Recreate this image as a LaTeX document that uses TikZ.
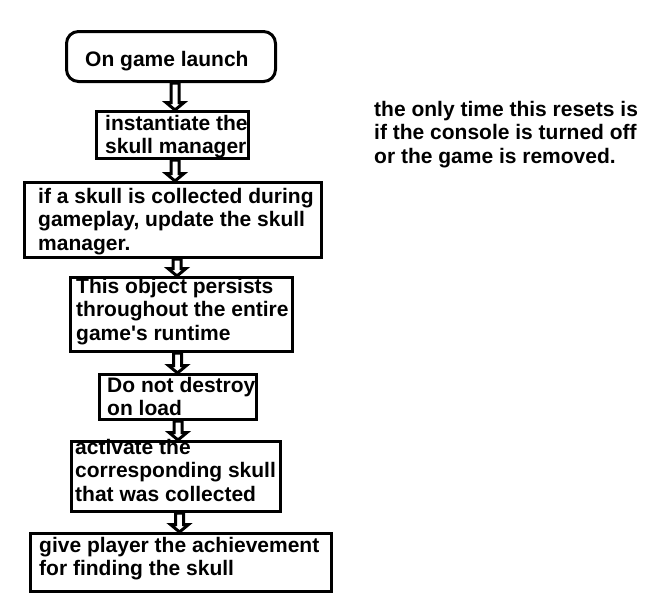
\documentclass[tikz,border=0pt]{standalone}
\usepackage{fontspec}
\setmainfont{Liberation Sans}[Ligatures=TeXOff]
\usetikzlibrary{calc}
\newcommand\firstline{\rule{0pt}{16pt}}
\tikzset{
  boxline/.style={draw=black, line width=3pt, inner sep=0pt, outer sep=0pt},
  flowbox/.style={boxline, rectangle},
  startbox/.style={boxline, rectangle, rounded corners=12pt},
  txt/.style={anchor=north west, inner sep=0pt, align=left, text=black,
    font=\fontsize{21}{23.5}\selectfont\bfseries},
  arrowline/.style={draw=black, line width=3pt, line join=miter, fill=white}
}
\newcommand\hollowarrow[3]{%
  \draw[arrowline] ($(#2.south -| #1)+(-4,1.5)$) -- ($(#3.north -| #1)+(-4,-9)$)
    -- ++(-5,0) -- ($(#3.north -| #1)+(0,-1.5)$) -- ($(#3.north -| #1)+(9,-9)$)
    -- ++(-5,0) -- ($(#2.south -| #1)+(4,1.5)$) -- cycle;}
\begin{document}
\begin{tikzpicture}[x=1pt, y=-1pt]
\useasboundingbox (0,0) rectangle (646,608);
\fill[white] (0,0) rectangle (646,608);

% boxes
\node[startbox, minimum width=209pt, minimum height=50pt] (b1) at (171,56.5) {};
\node[flowbox, minimum width=152pt, minimum height=47pt] (b2) at (172.5,135) {};
\node[flowbox, minimum width=297pt, minimum height=75pt] (b3) at (173,220) {};
\node[flowbox, minimum width=222pt, minimum height=74pt] (b4) at (181.5,314.5) {};
\node[flowbox, minimum width=157pt, minimum height=45pt] (b5) at (178,397) {};
\node[flowbox, minimum width=209pt, minimum height=70pt] (b6) at (176,476.5) {};
\node[flowbox, minimum width=301pt, minimum height=58pt] (b7) at (181,562.5) {};

% texts
\node[txt] (t1) at (85,50) {\firstline On game launch};
\node[txt] (t2) at (105,114) {\firstline instantiate the\\skull manager};
\node[txt] (t3) at (38,187) {\firstline if a skull is collected during\\gameplay, update the skull\\manager.};
\node[txt] (t4) at (76,277) {\firstline This object persists\\throughout the entire\\game's runtime};
\node[txt] (t5) at (107,376) {\firstline Do not destroy\\on load};
\node[txt] (t6) at (75,438) {\firstline activate the\\corresponding skull\\that was collected};
\node[txt] (t7) at (39,536) {\firstline give player the achievement\\for finding the skull};
\node[txt] (note) at (374,100) {\firstline the only time this resets is\\if the console is turned off\\or the game is removed.};

% arrow x positions
\coordinate (x1) at (175,0);
\coordinate (x2) at (175,0);
\coordinate (x3) at (177,0);
\coordinate (x4) at (177.5,0);
\coordinate (x5) at (178,0);
\coordinate (x6) at (179.5,0);

% connectors
\hollowarrow{x1}{b1}{b2}
\hollowarrow{x2}{b2}{b3}
\hollowarrow{x3}{b3}{b4}
\hollowarrow{x4}{b4}{b5}
\hollowarrow{x5}{b5}{b6}
\hollowarrow{x6}{b6}{b7}
\end{tikzpicture}
\end{document}
